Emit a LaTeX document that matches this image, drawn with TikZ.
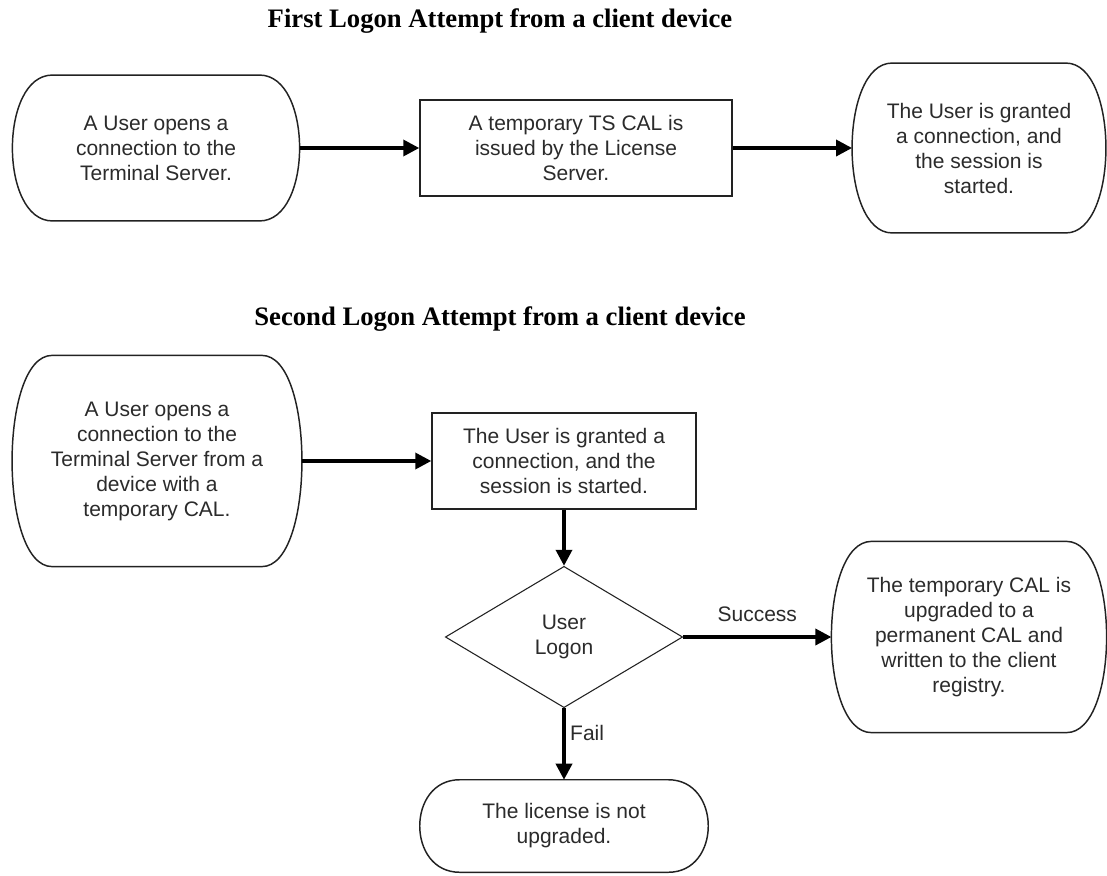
\documentclass[tikz,border=0pt]{standalone}
\usepackage{fontspec}
\setmainfont{Liberation Sans}
\newfontfamily\headfont{Liberation Serif}
\usepackage{tikz}
\usetikzlibrary{arrows.meta,positioning,shapes.geometric}
\definecolor{logonline}{HTML}{222222}
\definecolor{logontext}{HTML}{2B2B2B}

\begin{document}
\begin{tikzpicture}[
  x=0.75pt, y=-0.75pt,
  every node/.style={font=\fontsize{15.75}{18.75}\selectfont, text=logontext},
  heading/.style={font=\headfont\bfseries\fontsize{20}{24}\selectfont, text=black},
  process/.style={rectangle, draw=logonline, line width=1.1pt, align=center, inner sep=0pt},
  decision/.style={diamond, draw=logonline, line width=0.8pt, align=center, inner sep=0pt},
  capline/.style={draw=logonline, line width=1.1pt},
  terminal/.style={rectangle, align=center, inner sep=0pt,
    append after command={\pgfextra{
      \draw[capline] ([xshift=-30pt]\tikzlastnode.north east)
        .. controls ([xshift=10pt]\tikzlastnode.north east) and ([xshift=10pt]\tikzlastnode.south east)
        .. ([xshift=-30pt]\tikzlastnode.south east)
        -- ([xshift=30pt]\tikzlastnode.south west)
        .. controls ([xshift=-10pt]\tikzlastnode.south west) and ([xshift=-10pt]\tikzlastnode.north west)
        .. ([xshift=30pt]\tikzlastnode.north west) -- cycle;
    }}},
  flow/.style={-{Triangle[length=12pt,width=12pt]}, line width=2.6pt, draw=black}
]
  \path[use as bounding box, fill=white] (0,0) rectangle (1107,875);

  % first logon
  \node[heading] (head1) at (500,21) {First Logon Attempt from a client device};
  \node[terminal, minimum width=215pt, minimum height=109pt] (open1) at (156,148)
    {A User opens a\\connection to the\\Terminal Server.};
  \node[process, minimum width=234pt, minimum height=72pt] (tempcal) at (576,148)
    {A temporary TS CAL is\\issued by the License\\Server.};
  \node[terminal, minimum width=190pt, minimum height=127pt] (grant1) at (979,148)
    {The User is granted\\a connection, and\\the session is\\started.};

  \draw[flow] (open1) -- (tempcal);
  \draw[flow] (tempcal) -- (grant1);

  % second logon
  \node[heading] (head2) at (500,319) {Second Logon Attempt from a client device};
  \node[terminal, minimum width=217pt, minimum height=158pt] (open2) at (157,461)
    {A User opens a\\connection to the\\Terminal Server from a\\device with a\\temporary CAL.};
  \node[process, minimum width=198pt, minimum height=72pt] (grant2) at (564,461)
    {The User is granted a\\connection, and the\\session is started.};
  \node[decision, minimum width=178pt, minimum height=106pt] (logon) at (564,637)
    {User\\Logon};
  \node[terminal, minimum width=206pt, minimum height=143pt] (upgrade) at (969,637)
    {The temporary CAL is\\upgraded to a\\permanent CAL and\\written to the client\\registry.};
  \node[terminal, minimum width=216pt, minimum height=69pt] (nolicense) at (564,826)
    {The license is not\\upgraded.};

  \draw[flow] (open2) -- (grant2);
  \draw[flow] (grant2) -- (logon);
  \draw[flow] (logon) -- node[above=7pt]{Success} (upgrade);
  \draw[flow] (logon) -- node[right, pos=0.35]{Fail} (nolicense);
\end{tikzpicture}
\end{document}
